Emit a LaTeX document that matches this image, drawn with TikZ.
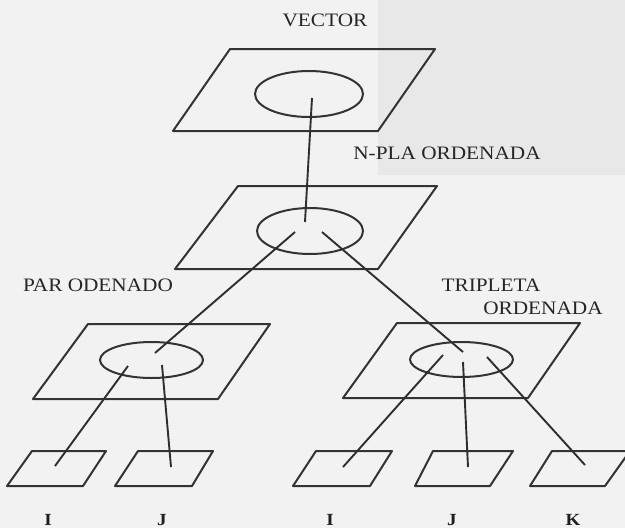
\documentclass[tikz,border=0pt]{standalone}
\usepackage{fontspec}
\setmainfont{Liberation Serif}[FakeStretch=1.12]
\usetikzlibrary{shapes.geometric}
\begin{document}
\begin{tikzpicture}[x=1pt,y=-1pt,
  shp/.style={draw=black!80, line width=2pt, line join=round},
  oval/.style={ellipse, draw=black!80, line width=2pt, inner sep=0pt},
  conn/.style={draw=black!82, line width=1.9pt},
  lbl/.style={text=black!85, font=\fontsize{19}{19}\selectfont, anchor=base, inner sep=0pt},
  leaf/.style={text=black!88, font=\fontsize{17}{17}\selectfont\bfseries, anchor=base, inner sep=0pt}]
\fill[black!5] (0,0) rectangle (625,528);
\fill[black!9] (378,0) rectangle (625,175);
\useasboundingbox (0,0) rectangle (625,528);

% labels
\node[lbl] (tVec) at (325,26) {VECTOR};
\node[lbl] (tNpla) at (447,159) {N-PLA ORDENADA};
\node[lbl] (tPar) at (98,291) {PAR ODENADO};
\node[lbl] (tTri) at (491,291) {TRIPLETA};
\node[lbl] (tOrd) at (543,314) {ORDENADA};

% planes
\draw[shp] (230,49) -- (435,49) -- (378,131) -- (173,131) -- cycle;
\draw[shp] (238,186) -- (437,186) -- (378,269) -- (175,269) -- cycle;
\draw[shp] (88,324) -- (270,324) -- (218,399) -- (33,399) -- cycle;
\draw[shp] (397,323) -- (580,323) -- (528,398) -- (343,398) -- cycle;
\draw[shp] (32,451) -- (106,451) -- (83,486) -- (7,486) -- cycle;
\draw[shp] (138,451) -- (213,451) -- (192,486) -- (115,486) -- cycle;
\draw[shp] (316,451) -- (392,451) -- (370,486) -- (293,486) -- cycle;
\draw[shp] (433,451) -- (513,451) -- (490,486) -- (415,486) -- cycle;
\draw[shp] (552,451) -- (630,451) -- (605,486) -- (530,486) -- cycle;

% ovals
\node[oval, minimum width=108pt, minimum height=46pt] (eVec) at (309,94) {};
\node[oval, minimum width=106pt, minimum height=46pt] (eNpla) at (310,231) {};
\node[oval, minimum width=103pt, minimum height=36pt] (ePar) at (151.5,360) {};
\node[oval, minimum width=103pt, minimum height=35pt] (eTri) at (461.5,359.5) {};

% connector ends
\coordinate (a0) at (312,98);
\coordinate (a1) at (305,222);
\coordinate (b0) at (295,232);
\coordinate (b1) at (155,353);
\coordinate (c0) at (322,232);
\coordinate (c1) at (463,352);
\coordinate (d0) at (128,366);
\coordinate (d1) at (55,466);
\coordinate (e0) at (162,365);
\coordinate (e1) at (171,467);
\coordinate (f0) at (443,355);
\coordinate (f1) at (343,467);
\coordinate (g0) at (463,362);
\coordinate (g1) at (468,467);
\coordinate (h0) at (487,357);
\coordinate (h1) at (585,465);
\draw[conn] (a0) -- (a1);
\draw[conn] (b0) -- (b1);
\draw[conn] (c0) -- (c1);
\draw[conn] (d0) -- (d1);
\draw[conn] (e0) -- (e1);
\draw[conn] (f0) -- (f1);
\draw[conn] (g0) -- (g1);
\draw[conn] (h0) -- (h1);

% leaf labels
\node[leaf] (lI1) at (48,525) {I};
\node[leaf] (lJ1) at (162,525) {J};
\node[leaf] (lI2) at (330,525) {I};
\node[leaf] (lJ2) at (452,525) {J};
\node[leaf] (lK) at (573,525) {K};
\end{tikzpicture}
\end{document}
